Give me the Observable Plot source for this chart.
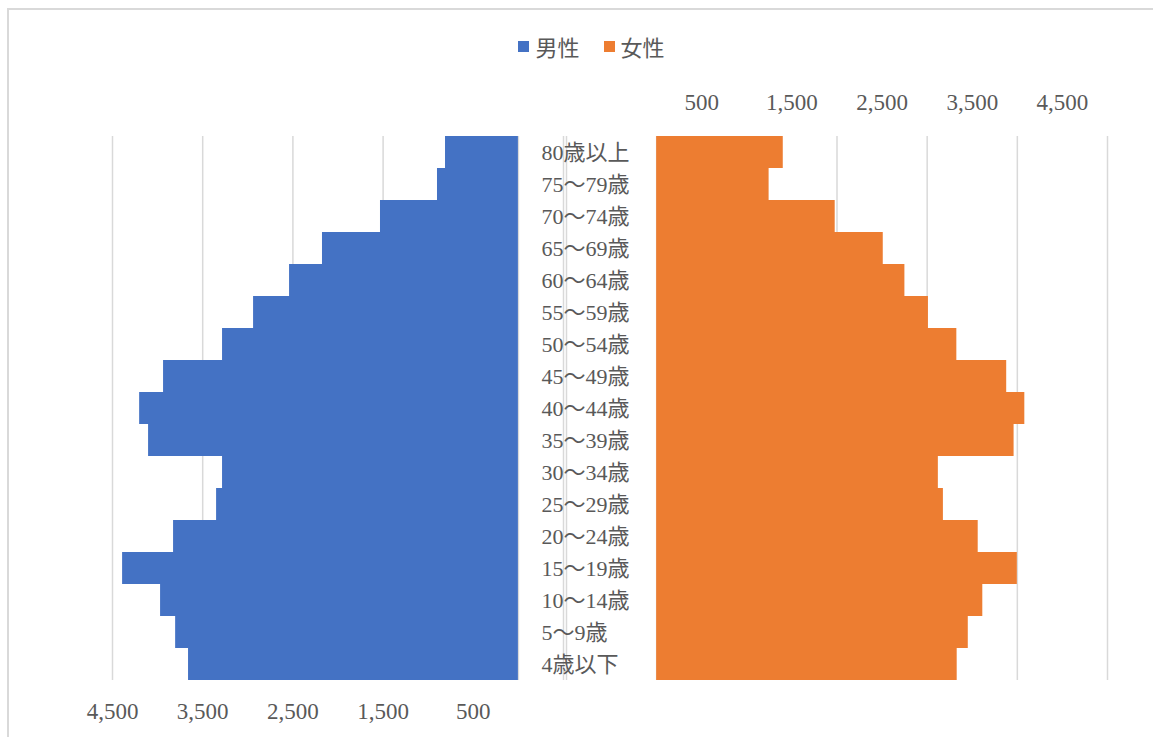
<!DOCTYPE html>
<html lang="ja">
<head>
<meta charset="utf-8">
<script src="https://cdn.jsdelivr.net/npm/d3@7"></script>
<script src="https://cdn.jsdelivr.net/npm/@observablehq/plot@0.6"></script>
<style>
  html, body { margin: 0; padding: 0; background: #fff; }
  #chart { position: relative; width: 1153px; height: 737px; overflow: hidden; background: #fff; }
  #chart svg { position: absolute; left: 0; top: 0; }
  .frame-top { position: absolute; left: 8px; top: 8px; width: 1145px; height: 2px; background: #d9d9d9; }
  .frame-left { position: absolute; left: 7px; top: 8px; width: 2px; height: 729px; background: #d9d9d9; }
  #legend { position: absolute; top: 30px; left: 0; width: 1153px; display: flex; justify-content: center; gap: 24px;
    font-family: "Liberation Serif", "Noto Sans CJK JP", serif; font-size: 22px; color: #595959; padding-left: 30px; box-sizing: border-box; }
  #legend span.item { display: flex; align-items: center; gap: 6px; }
  #legend span.sw { display: inline-block; width: 11px; height: 11px; }
</style>
</head>
<body>
<div id="chart">
  <div class="frame-top"></div>
  <div class="frame-left"></div>
</div>
<script>
// Age groups, oldest at the top
const ages = [
  "80歳以上", "75～79歳", "70～74歳", "65～69歳", "60～64歳", "55～59歳",
  "50～54歳", "45～49歳", "40～44歳", "35～39歳", "30～34歳", "25～29歳",
  "20～24歳", "15～19歳", "10～14歳", "5～9歳", "4歳以下"
];

// Population by age group
const male = [808, 897, 1529, 2172, 2537, 2936, 3280, 3934, 4199, 4100, 3280, 3346, 3823, 4388, 3967, 3800, 3657];
const female = [1404, 1247, 1980, 2513, 2753, 3014, 3329, 3882, 4083, 3964, 3124, 3180, 3566, 4000, 3617, 3456, 3333];

// Axis tick labels and gridlines
const maleTicks = [4500, 3500, 2500, 1500, 500];
const maleGrid = [4500, 3500, 2500, 1500, 500, 0, -500];
const femaleTicks = [500, 1500, 2500, 3500, 4500];
const femaleGrid = [-1000, 0, 1000, 2000, 3000, 4000, 5000];

const seriesNames = ["男性", "女性"];
const seriesColors = ["#4472C4", "#ED7D31"];

const maleData = ages.map((age, i) => ({age, value: male[i]}));
const femaleData = ages.map((age, i) => ({age, value: female[i]}));

const W = 1153, H = 737;
const fontFamily = "'Liberation Serif', 'Noto Sans CJK JP', serif";
const textColor = "#595959";
const gridColor = "#d9d9d9";

// Male half: values grow to the left
const left = Plot.plot({
  width: W, height: H,
  marginTop: 136, marginBottom: 57, marginLeft: 112, marginRight: 590,
  style: {fontFamily, fontSize: "20px", color: textColor, background: "transparent", overflow: "visible"},
  x: {domain: [4500, -500], label: null},
  y: {domain: ages, padding: 0, label: null},
  marks: [
    Plot.ruleX(maleGrid, {stroke: gridColor, strokeWidth: 1.5}),
    Plot.barX(maleData, {x: "value", y: "age", fill: seriesColors[0]}),
    Plot.axisX({anchor: "bottom", ticks: maleTicks, tickSize: 0, tickPadding: 22,
      tickFormat: d3.format(","), fontSize: 23, fill: textColor, label: null}),
    Plot.axisY({ticks: [], tickSize: 0, label: null})
  ]
});

// Female half: values grow to the right
const right = Plot.plot({
  width: W, height: H,
  marginTop: 136, marginBottom: 57, marginLeft: 566, marginRight: 46,
  style: {fontFamily, fontSize: "20px", color: textColor, background: "transparent", overflow: "visible"},
  x: {domain: [-1000, 5000], label: null},
  y: {domain: ages, padding: 0, label: null},
  marks: [
    Plot.ruleX(femaleGrid, {stroke: gridColor, strokeWidth: 1.5}),
    Plot.barX(femaleData, {x: "value", y: "age", fill: seriesColors[1]}),
    Plot.axisX({anchor: "top", ticks: femaleTicks, tickSize: 0, tickPadding: 27,
      tickFormat: d3.format(","), fontSize: 23, fill: textColor, label: null}),
    Plot.axisY({anchor: "left", tickSize: 0, tickPadding: 25, textAnchor: "start",
      fontSize: 22, fill: textColor, label: null})
  ]
});

const chart = document.getElementById("chart");
chart.appendChild(left);
chart.appendChild(right);

// Legend
const legend = document.createElement("div");
legend.id = "legend";
seriesNames.forEach((name, i) => {
  const item = document.createElement("span");
  item.className = "item";
  const sw = document.createElement("span");
  sw.className = "sw";
  sw.style.background = seriesColors[i];
  const label = document.createElement("span");
  label.textContent = name;
  item.appendChild(sw);
  item.appendChild(label);
  legend.appendChild(item);
});
chart.appendChild(legend);
</script>
</body>
</html>
